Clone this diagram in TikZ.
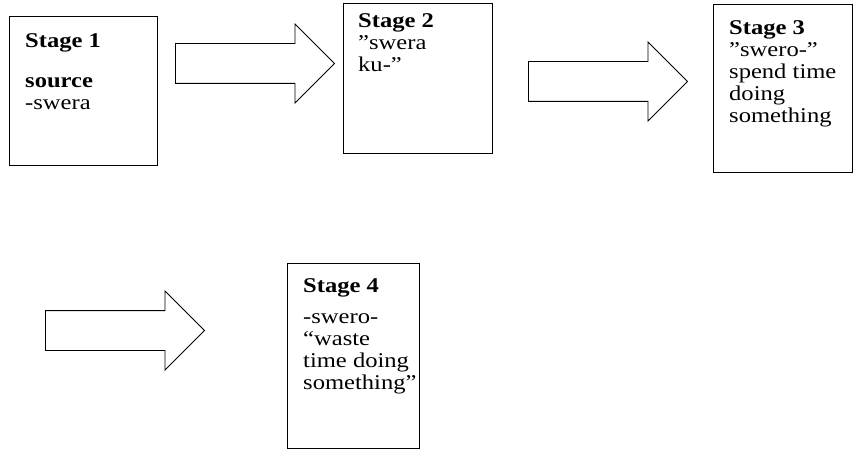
\documentclass[tikz,border=0pt]{standalone}
\usepackage{fontspec}
\setmainfont{Liberation Serif}[FakeStretch=1.17]
\usepackage{tikz}
\usetikzlibrary{shapes.arrows,positioning}

\tikzset{
  stagebox/.style={draw, line width=0.9pt, rectangle, inner sep=0pt, anchor=north west},
  stagetext/.style={inner sep=0pt, anchor=north west, align=left, font=\fontsize{21}{22}\selectfont},
  blockarrow/.style={draw, line width=0.9pt, single arrow, single arrow head extend=19.5pt,
    inner xsep=0pt, inner ysep=19.5pt, minimum height=159pt, anchor=tail}
}

\begin{document}
\begin{tikzpicture}[x=1pt,y=-1pt]
    \useasboundingbox (0,0) rectangle (853,449);

    % Stage 1 box
    \node[stagebox, minimum width=148pt, minimum height=149pt] (s1) at (9,16) {};
    \node[stagetext] (s1t) at ([shift={(16pt,-17pt)}]s1.north west)
      {\textbf{Stage 1}\\[18pt] \textbf{source}\\ -swera};

    % Stage 2 box
    \node[stagebox, minimum width=149pt, minimum height=150pt] (s2) at (343,3) {};
    \node[stagetext] (s2t) at ([shift={(15pt,-10pt)}]s2.north west)
      {\textbf{Stage 2}\\ ”swera\\ ku-”};

    % Stage 3 box
    \node[stagebox, minimum width=139pt, minimum height=168pt] (s3) at (713,4) {};
    \node[stagetext] (s3t) at ([shift={(16pt,-16pt)}]s3.north west)
      {\textbf{Stage 3}\\ ”swero-”\\ spend time\\ doing\\ something};

    % Stage 4 box
    \node[stagebox, minimum width=132pt, minimum height=185pt] (s4) at (287,263) {};
    \node[stagetext] (s4t) at ([shift={(16pt,-15pt)}]s4.north west)
      {\textbf{Stage 4}\\[9pt] -swero-\\ “waste\\ time doing\\ something”};

    % Arrows between the stages
    \node[blockarrow] (a1) at (175,63.5) {};
    \node[blockarrow] (a2) at (528,81.5) {};
    \node[blockarrow] (a3) at (45,330.5) {};
\end{tikzpicture}
\end{document}
